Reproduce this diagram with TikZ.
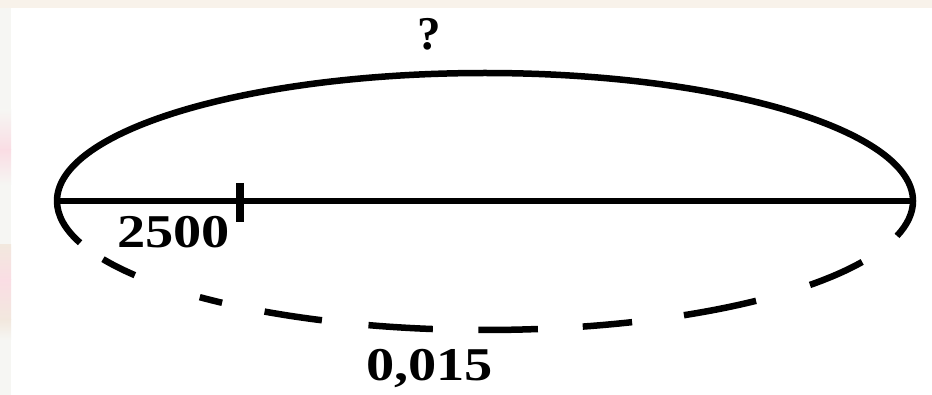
\documentclass[tikz,border=0pt]{standalone}
\usepackage{fontspec}
\usepackage{graphicx}
\setmainfont{Liberation Serif}
\definecolor{topstrip}{HTML}{F8F2EA}
\definecolor{leftbase}{HTML}{F6F6F3}
\definecolor{pinkband}{HTML}{FADDE4}
\definecolor{beigeband}{HTML}{F2E8DE}
\tikzset{
  outline/.style={line width=6.5pt, line cap=butt},
  dashpart/.style={line width=6.5pt, line cap=butt},
  lab/.style={inner sep=0pt, font=\fontsize{47}{50}\selectfont\bfseries},
}
\newcommand{\wide}[1]{\scalebox{1.2}[1]{#1}}
\begin{document}
\begin{tikzpicture}[x=1pt,y=1pt]
% background
\fill[white] (0,0) rectangle (932,-395);
\useasboundingbox (0,0) rectangle (932,-395);
\fill[topstrip] (0,0) rectangle (932,-8);
\fill[leftbase] (0,-8) rectangle (11,-395);
\shade[top color=leftbase, bottom color=pinkband] (0,-110) rectangle (11,-150);
\shade[top color=pinkband, bottom color=leftbase] (0,-150) rectangle (11,-185);
\shade[top color=beigeband, bottom color=pinkband] (0,-245) rectangle (11,-280);
\shade[top color=pinkband, bottom color=beigeband] (0,-280) rectangle (11,-320);
\shade[top color=beigeband, bottom color=leftbase] (0,-320) rectangle (11,-340);
% geometry
\coordinate (c) at (485,-201);
\coordinate (L) at (57,-201);
\coordinate (R) at (913,-201);
% upper solid half
\draw[outline] (L) arc[start angle=180, end angle=0, x radius=428pt, y radius=128pt];
% diameter
\draw[outline] (L) -- (R);
% tick
\coordinate (tk1) at (240,-183);
\coordinate (tk2) at (240,-222);
\draw[line width=8.5pt] (tk1) -- (tk2);
% lower dashed half (irregular dashes)
\foreach \a/\b in {180/198.9, 206.8/215.1, 228.2/232.1, 239/247.6, 254.2/263,
                   269.1/277.1, 283.2/290.1, 297.7/309.3, 319.4/331.8, 344.3/360}{
  \draw[dashpart] (c) ++(\a:428pt and 129pt)
     arc[start angle=\a, end angle=\b, x radius=428pt, y radius=129pt];
}
% labels
\node[lab, anchor=base west] (n2500) at (117,-248) {\wide{2500}};
\node[lab, anchor=base] (q) at (429,-50) {?};
\node[lab, anchor=base west] (n0015) at (366,-381) {\wide{0,015}};
\end{tikzpicture}
\end{document}
